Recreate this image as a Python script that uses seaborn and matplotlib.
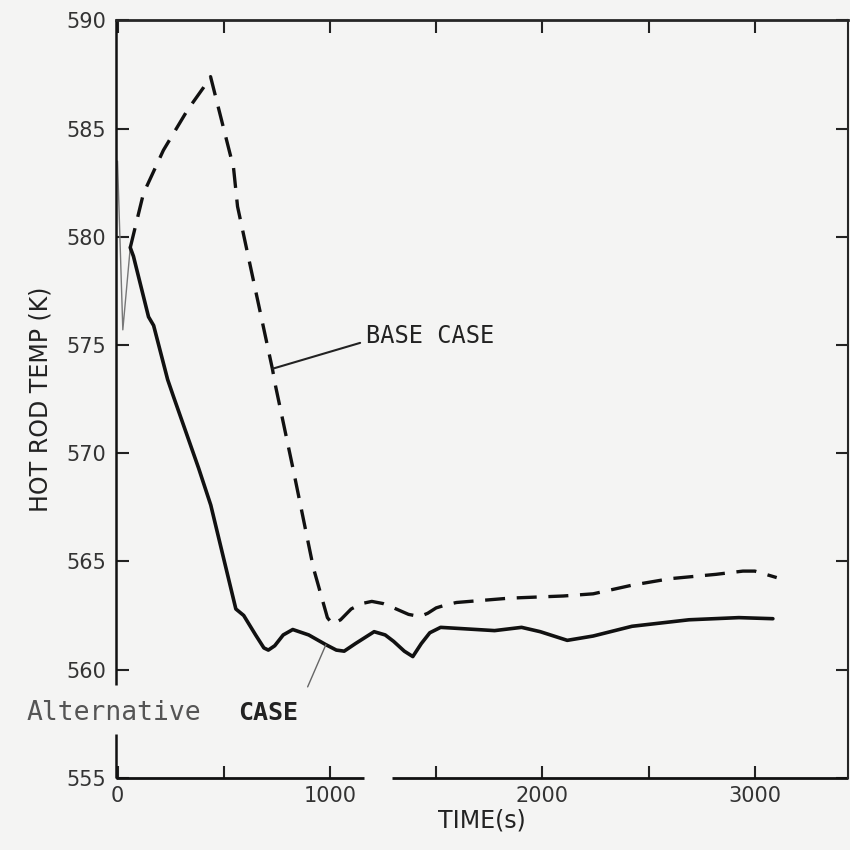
import matplotlib
matplotlib.use("Agg")
import matplotlib.pyplot as plt
import seaborn as sns
import pandas as pd
import numpy as np

# ---- data ----
init_t = [0, 25, 60]
init_T = [583.5, 575.7, 579.5]

base_t = [60, 122, 216, 329, 405, 438, 546, 565, 659, 729, 744, 828, 922, 988, 1012,
          1050, 1100, 1150, 1197, 1250, 1300, 1370, 1423, 1460, 1500, 1550, 1596,
          1845, 2099, 2239, 2422, 2601, 2817, 2944, 3000, 3103]
base_T = [579.5, 582.0, 584.0, 585.85, 586.9, 587.4, 583.2, 581.4, 577.1, 573.9, 573.1, 569.2, 564.7, 562.4, 562.1,
          562.3, 562.8, 563.05, 563.15, 563.05, 562.85, 562.55, 562.45, 562.6, 562.85, 563.0, 563.1,
          563.3, 563.4, 563.5, 563.9, 564.2, 564.4, 564.55, 564.55, 564.25]

alt_t = [60, 75, 146, 170, 236, 264, 382, 439, 557, 594, 650, 689, 710, 740, 780, 825, 900, 981, 1030, 1067,
         1120, 1208, 1260, 1300, 1350, 1390, 1430, 1470, 1521, 1775, 1902, 1990, 2117, 2239, 2422, 2690, 2925, 3085]
alt_T = [579.5, 579.1, 576.3, 575.9, 573.4, 572.6, 569.3, 567.6, 562.8, 562.5, 561.6, 561.0, 560.9, 561.1, 561.6,
         561.85, 561.6, 561.15, 560.9, 560.85,
         561.2, 561.75, 561.6, 561.3, 560.85, 560.6, 561.2, 561.7, 561.95, 561.8, 561.95, 561.75, 561.35, 561.55,
         562.0, 562.3, 562.4, 562.35]

y_ticks = [555, 560, 565, 570, 575, 580, 585, 590]
x_major = [0, 1000, 2000, 3000]
x_minor = [500, 1500, 2500]

sns.set_style("ticks")
plt.rcParams["font.family"] = ["DejaVu Sans"]
bg = "#f4f4f3"

fig = plt.figure(figsize=(8.5, 8.5), dpi=100, facecolor=bg)
ax = fig.add_axes([0.136, 0.085, 0.862, 0.891])
ax.set_facecolor(bg)

df_init = pd.DataFrame({"t": init_t, "T": init_T})
df_base = pd.DataFrame({"t": base_t, "T": base_T})
df_alt = pd.DataFrame({"t": alt_t, "T": alt_T})

sns.lineplot(data=df_init, x="t", y="T", ax=ax, color="#777777", lw=1.0, sort=False)
sns.lineplot(data=df_base, x="t", y="T", ax=ax, color="#111111", lw=2.4, sort=False)
ax.lines[-1].set_dashes((6, 3.5))
sns.lineplot(data=df_alt, x="t", y="T", ax=ax, color="#111111", lw=2.6, sort=False)
for ln in ax.lines:
    ln.set_solid_joinstyle("round")
    ln.set_dash_joinstyle("round")

ax.set_xlim(-9, 3440)
ax.set_ylim(555, 590)

# spines: gaps as in the original drawing
ax.spines["bottom"].set_visible(False)
ax.spines["left"].set_visible(False)
ax.spines["top"].set_linewidth(2)
ax.spines["right"].set_linewidth(1.5)
ax.hlines(555, -9, 1158, color="#111111", lw=2, clip_on=False)
ax.hlines(555, 1294, 3440, color="#111111", lw=2, clip_on=False)
ax.vlines(-9, 559.3, 590, color="#111111", lw=1.8, clip_on=False)
ax.vlines(-9, 555, 557.0, color="#111111", lw=1.8, clip_on=False)

ax.set_yticks(y_ticks)
ax.set_xticks(x_major)
ax.set_xticks(x_minor, minor=True)
ax.tick_params(axis="both", which="both", direction="in", length=9, width=1.5,
               colors="#222222", labelsize=15, top=True, right=True)
ax.tick_params(axis="y", pad=7)
ax.tick_params(axis="x", pad=6)
for lab in ax.get_xticklabels() + ax.get_yticklabels():
    lab.set_color("#333333")

ax.set_xlabel("TIME(s)", fontsize=17, color="#222222", labelpad=2)
ax.set_ylabel("HOT ROD TEMP (K)", fontsize=17, color="#222222", labelpad=10)

# annotations
ax.annotate("BASE CASE", xy=(729, 573.9), xytext=(1170, 575.4),
            fontsize=17, family="DejaVu Sans Mono", color="#222222",
            va="center", ha="left",
            arrowprops=dict(arrowstyle="-", color="#222222", lw=1.5,
                            shrinkA=2, shrinkB=0, relpos=(0, 0.3)))
ax.annotate("", xy=(981, 561.15), xytext=(895, 559.2),
            arrowprops=dict(arrowstyle="-", color="#666666", lw=1.0,
                            shrinkA=0, shrinkB=0))
ax.text(-430, 558.0, "Alternative", fontsize=19, family="DejaVu Sans Mono",
        color="#555555", va="center", ha="left", clip_on=False)
ax.text(570, 558.0, "CASE", fontsize=18, family="DejaVu Sans Mono",
        fontweight="bold", color="#222222", va="center", ha="left")

fig.savefig("out.png", dpi=100, facecolor=bg)
